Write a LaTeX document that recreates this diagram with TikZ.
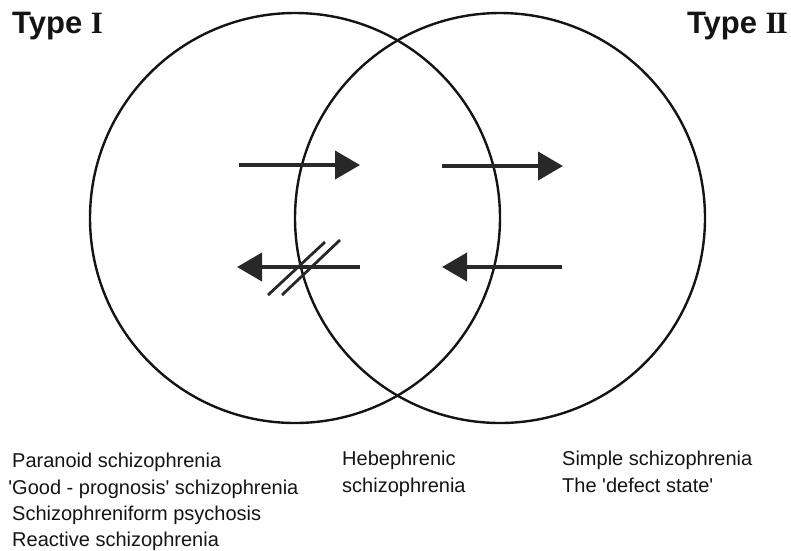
\documentclass[tikz,border=0pt]{standalone}
\usepackage{fontspec}
\setmainfont{Liberation Sans}
\newfontfamily\numeralfont{Liberation Serif}
\usepackage{tikz}
\usetikzlibrary{arrows.meta, positioning, calc}
\definecolor{inkblack}{RGB}{20, 20, 20}
\definecolor{arrowdark}{RGB}{40, 40, 40}
\newcommand{\sq}{\textquotesingle}

\begin{document}
\begin{tikzpicture}[
    x=1pt, y=-1pt,
    ring/.style={
        circle,
        draw=inkblack,
        line width=2.4pt,
        minimum size=410pt,
        inner sep=0pt
    },
    typelabel/.style={
        inner sep=0pt,
        text=inkblack,
        font=\fontsize{31}{36}\selectfont\bfseries
    },
    grouplabel/.style={
        inner sep=0pt,
        align=left,
        text=inkblack,
        anchor=north west,
        font=\fontsize{20}{26.3}\selectfont
    },
    flowarrow/.style={
        -{Triangle[length=25pt, width=28pt]},
        line width=4pt,
        draw=arrowdark
    },
    blockmark/.style={
        line width=2.8pt,
        draw=arrowdark
    }
]
    \useasboundingbox (0,0) rectangle (791,550);

    % Circles
    \node[ring] (typeone) at (295,218) {};
    \node[ring] (typetwo) at (500,218) {};

    % Titles
    \node[typelabel, anchor=base west] (titleone) at (12,33) {Type {\numeralfont I}};
    \node[typelabel, anchor=base east] (titletwo) at (788,33) {Type {\numeralfont I\kern-2pt I}};

    % Arrow ends
    \coordinate (upleftstart)   at (239,165);
    \coordinate (upleftend)     at (360,165);
    \coordinate (uprightstart)  at (442,166);
    \coordinate (uprightend)    at (563,166);
    \coordinate (lowleftstart)  at (360,267);
    \coordinate (lowleftend)    at (237,267);
    \coordinate (lowrightstart) at (562,267);
    \coordinate (lowrightend)   at (442,267);
    \coordinate (blocked)       at (304,267);

    % Arrows
    \draw[flowarrow] (upleftstart) -- (upleftend);
    \draw[flowarrow] (uprightstart) -- (uprightend);
    \draw[flowarrow] (lowleftstart) -- (lowleftend);
    \draw[flowarrow] (lowrightstart) -- (lowrightend);

    % Blocked passage
    \draw[blockmark] ($(blocked)+(-36,28)$) -- ($(blocked)+(21,-25)$);
    \draw[blockmark] ($(blocked)+(-22,28)$) -- ($(blocked)+(36,-27)$);

    % Groups
    \node[grouplabel] (groupone) at (12,453) {Paranoid schizophrenia \\
        \llap{\sq}Good - prognosis\sq{} schizophrenia \\
        Schizophreniform psychosis \\
        Reactive schizophrenia};
    \node[grouplabel] (groupmid) at (342,451) {Hebephrenic \\ schizophrenia};
    \node[grouplabel] (grouptwo) at (562,451) {Simple schizophrenia \\ The \sq{}defect state\sq};

\end{tikzpicture}
\end{document}
